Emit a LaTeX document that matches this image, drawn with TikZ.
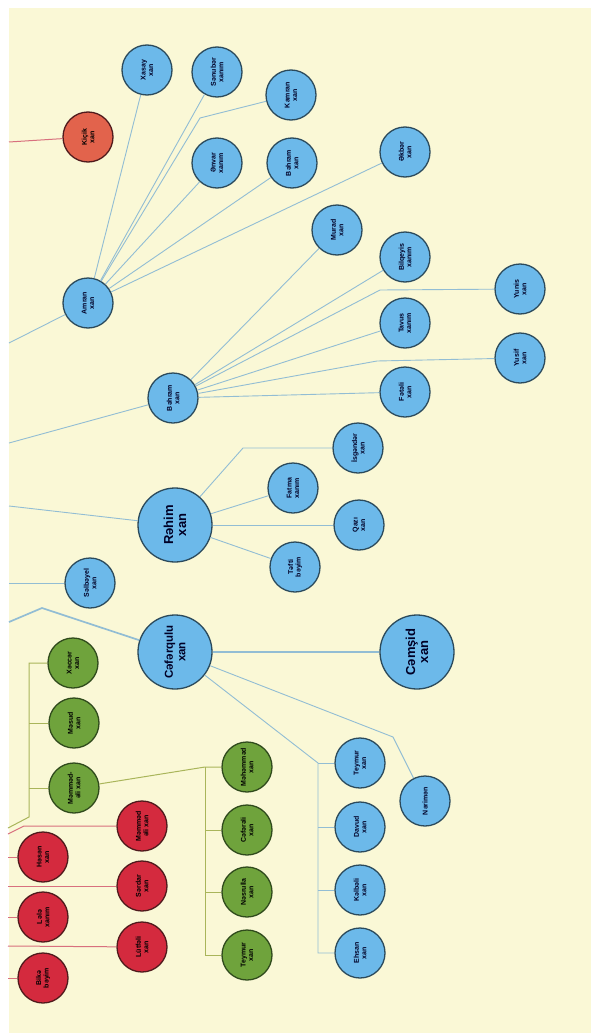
\documentclass[tikz,border=0pt]{standalone}
\usepackage{fontspec}
\setmainfont{Liberation Sans}
\usetikzlibrary{positioning}

\definecolor{paper}{HTML}{FAF8D6}
\definecolor{bluefill}{HTML}{6CB9EA}
\definecolor{blueedge}{HTML}{2B4A5C}
\definecolor{blueline}{HTML}{92BDD4}
\definecolor{greenfill}{HTML}{6FA33C}
\definecolor{greenedge}{HTML}{2F4A1C}
\definecolor{greenline}{HTML}{A9B55A}
\definecolor{redfill}{HTML}{D42A3E}
\definecolor{rededge}{HTML}{4F1A1C}
\definecolor{redline}{HTML}{D8707E}
\definecolor{orangefill}{HTML}{E2634C}

\begin{document}
\begin{tikzpicture}[
    x=1pt, y=-1pt,
    person/.style={
        circle,
        draw=blueedge,
        line width=1.3pt,
        fill=bluefill,
        minimum size=50pt,
        inner sep=0pt,
        align=center,
        rotate=90,
        text=black!85!blue,
        font=\bfseries\fontsize{7}{7.5}\selectfont
    },
    bigperson/.style={person, minimum size=74pt, font=\bfseries\fontsize{13}{13}\selectfont},
    greenperson/.style={person, fill=greenfill, draw=greenedge, text=black},
    redperson/.style={person, fill=redfill, draw=rededge, text=black},
    link/.style={draw=blueline, line width=0.9pt},
    thicklink/.style={draw=blueline, line width=1.7pt},
    greenlink/.style={draw=greenline, line width=1pt},
    redlink/.style={draw=redline, line width=1pt}
]

\useasboundingbox (0,0) rectangle (591,1033);
\fill[white] (0,0) rectangle (591,1033);
\fill[paper] (9,8) rectangle (591,1033);

% Amran xan branch
\node[person] (xasay) at (147,70) {Xasay\\xan};
\node[person] (senuber) at (217,72) {Sənubər\\xanım};
\node[person] (kamran) at (291,95) {Kamran\\xan};
\node[person] (envar) at (217,163) {Ənvar\\xanım};
\node[person] (behramA) at (292,163) {Bəhram\\xan};
\node[person] (ekber) at (405,152) {Əkbər\\xan};
\node[person, fill=orangefill, draw=rededge, text=black] (kicik) at (88,137) {Kiçik\\xan};
\node[person] (amran) at (88,303) {Amran\\xan};

% Bəhram xan branch
\node[person] (behramB) at (173,398) {Bəhram\\xan};
\node[person] (murad) at (337,230) {Murad\\xan};
\node[person] (bilqeyis) at (405,257) {Bilqeyis\\xanım};
\node[person] (yunis) at (520,289) {Yunis\\xan};
\node[person] (tavus) at (405,323) {Tavus\\xanım};
\node[person] (yusif) at (520,358) {Yusif\\xan};
\node[person] (fateli) at (405,392) {Fətəli\\xan};

% Rəhim xan branch
\node[bigperson] (rehim) at (175,525) {Rəhim\\xan};
\node[person] (isgender) at (358,448) {İsgəndər\\xan};
\node[person] (fatma) at (293,488) {Fatma\\xanım};
\node[person] (qazi) at (359,525) {Qazı\\xan};
\node[person] (tefti) at (295,567) {Təfti\\bəyim};
\node[person] (selbeyel) at (90,583) {Səlbəyel\\xan};

% Cəfərqulu xan branch
\node[bigperson, font=\bfseries\fontsize{11.5}{12.5}\selectfont] (ceferqulu) at (175,652) {Cəfərqulu\\xan};
\node[bigperson] (cemsid) at (417,652) {Cəmşid\\xan};
\node[person] (teymurB) at (360,763) {Teymur\\xan};
\node[person] (nerimen) at (425,801) {Nərimən};
\node[person] (davud) at (360,827) {Davud\\xan};
\node[person] (kelbeli) at (360,890) {Kəlbəli\\xan};
\node[person] (ehsan) at (360,953) {Ehsan\\xan};

% green family
\node[greenperson] (xeccer) at (73,663) {Xəccər\\xan};
\node[greenperson] (mesud) at (74,723) {Məsud\\xan};
\node[greenperson] (memmedeliG) at (74,788) {Məmməd-\\əli xan};
\node[greenperson] (mehemmed) at (247,767) {Məhəmməd\\xan};
\node[greenperson] (cefereli) at (247,830) {Cəfərəli\\xan};
\node[greenperson] (nesrulla) at (247,892) {Nəsrulla\\xan};
\node[greenperson] (teymurG) at (247,955) {Teymur\\xan};

% red family
\node[redperson] (memmedeliR) at (142,826) {Məmməd\\əli xan};
\node[redperson] (serdar) at (142,886) {Sərdar\\xan};
\node[redperson] (lutfeli) at (142,947) {Lütfəli\\xan};
\node[redperson] (hesen) at (43,857) {Həsən\\xan};
\node[redperson] (lele) at (43,917) {Lələ\\xanım};
\node[redperson] (bike) at (43,978) {Bikə\\bəyim};

% loose ends and bends
\coordinate (inKicik) at (9,142);
\coordinate (inAmran) at (9,343);
\coordinate (inBehram) at (9,443);
\coordinate (inRehim) at (9,506);
\coordinate (inSelbeyel) at (9,583);
\coordinate (inCefer) at (9,622);
\coordinate (ceferBend) at (42,608);
\coordinate (kamranBend) at (200,118);
\coordinate (yunisBend) at (380,290);
\coordinate (yusifBend) at (377,361);
\coordinate (isgBend) at (243,448);
\coordinate (nerimenBend) at (393,737);
\coordinate (sonsTop) at (318,763);
\coordinate (sonsBot) at (318,953);
\coordinate (davudTick) at (318,827);
\coordinate (kelbeliTick) at (318,890);
\coordinate (greenTop) at (29,663);
\coordinate (mesudTick) at (29,723);
\coordinate (memmedTick) at (29,788);
\coordinate (greenFoot) at (29,817);
\coordinate (inGreen) at (8,828);
\coordinate (grandTop) at (205,767);
\coordinate (grandBot) at (205,955);
\coordinate (ceferTick) at (205,830);
\coordinate (nesrullaTick) at (205,892);
\coordinate (inRed1) at (8,834);
\coordinate (redBend) at (24,826);
\coordinate (inRed2) at (8,886);
\coordinate (inRed3) at (8,946);
\coordinate (inHesen) at (8,857);
\coordinate (inLele) at (8,917);
\coordinate (inBike) at (8,978);

% Lines
\draw[redlink] (inKicik) -- (kicik);
\draw[link] (inAmran) -- (amran);
\draw[link] (amran) -- (xasay);
\draw[link] (amran) -- (senuber);
\draw[link] (amran) -- (kamranBend) -- (kamran);
\draw[link] (amran) -- (envar);
\draw[link] (amran) -- (behramA);
\draw[link] (amran) -- (ekber);

\draw[link] (inBehram) -- (behramB);
\draw[link] (behramB) -- (murad);
\draw[link] (behramB) -- (bilqeyis);
\draw[link] (behramB) -- (yunisBend) -- (yunis);
\draw[link] (behramB) -- (tavus);
\draw[link] (behramB) -- (yusifBend) -- (yusif);
\draw[link] (behramB) -- (fateli);

\draw[link] (inRehim) -- (rehim);
\draw[link] (rehim) -- (isgBend) -- (isgender);
\draw[link] (rehim) -- (fatma);
\draw[link] (rehim) -- (qazi);
\draw[link] (rehim) -- (tefti);
\draw[link] (inSelbeyel) -- (selbeyel);

\draw[thicklink] (inCefer) -- (ceferBend) -- (ceferqulu);
\draw[thicklink] (ceferqulu) -- (cemsid);
\draw[link] (ceferqulu) -- (nerimenBend) -- (nerimen);
\draw[link] (ceferqulu) -- (sonsTop) -- (sonsBot) -- (ehsan);
\draw[link] (sonsTop) -- (teymurB);
\draw[link] (davudTick) -- (davud);
\draw[link] (kelbeliTick) -- (kelbeli);

\draw[greenlink] (inGreen) -- (greenFoot) -- (greenTop) -- (xeccer);
\draw[greenlink] (mesudTick) -- (mesud);
\draw[greenlink] (memmedTick) -- (memmedeliG);
\draw[greenlink] (memmedeliG) -- (grandTop) -- (mehemmed);
\draw[greenlink] (grandTop) -- (grandBot) -- (teymurG);
\draw[greenlink] (ceferTick) -- (cefereli);
\draw[greenlink] (nesrullaTick) -- (nesrulla);

\draw[redlink] (inRed1) -- (redBend) -- (memmedeliR);
\draw[redlink] (inRed2) -- (serdar);
\draw[redlink] (inRed3) -- (lutfeli);
\draw[redlink] (inHesen) -- (hesen);
\draw[redlink] (inLele) -- (lele);
\draw[redlink] (inBike) -- (bike);

\end{tikzpicture}
\end{document}
